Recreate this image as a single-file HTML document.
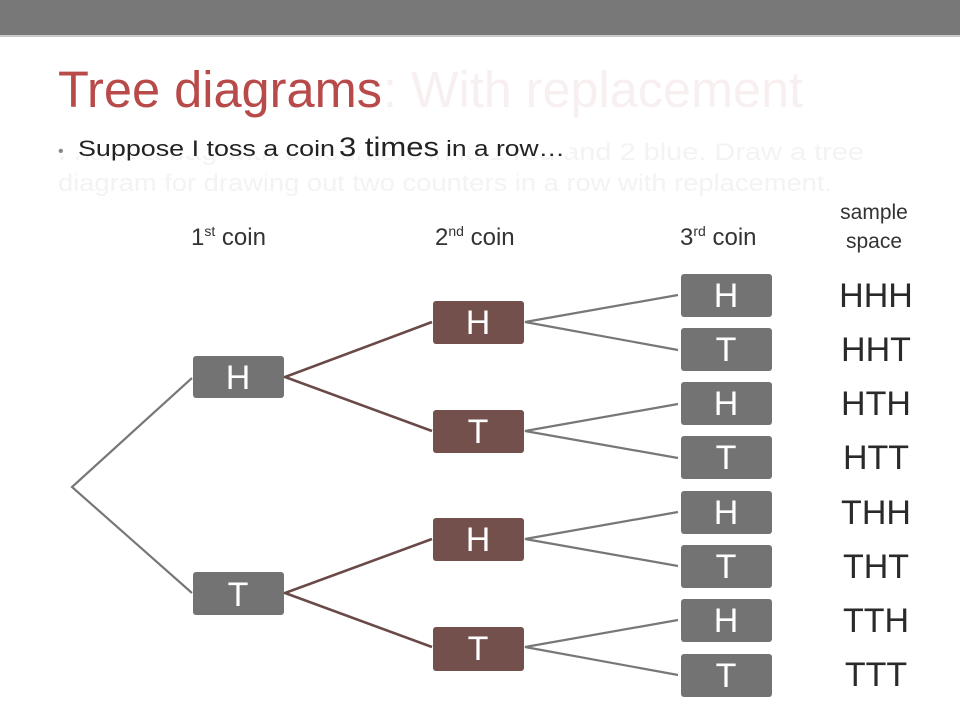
<!DOCTYPE html>
<html><head><meta charset="utf-8"><style>
html,body{margin:0;padding:0;background:#fff;}
svg{display:block;font-family:"Liberation Sans",Arial,sans-serif;}
</style></head><body>
<svg width="960" height="720" viewBox="0 0 960 720" xmlns="http://www.w3.org/2000/svg">
<rect x="0" y="0" width="960" height="720" fill="#fff"/>
<rect x="0" y="0" width="960" height="35" fill="#787878"/>
<rect x="0" y="35" width="960" height="2" fill="#c8c8c8"/>
<text x="58" y="107" font-size="51" fill="#b84a4a" textLength="324" lengthAdjust="spacingAndGlyphs">Tree diagrams</text>
<text x="383" y="107" font-size="51" fill="#f8f0f0" textLength="420" lengthAdjust="spacingAndGlyphs">: With replacement</text>
<text x="58" y="160" font-size="24" fill="#f3f3f3" textLength="806" lengthAdjust="spacingAndGlyphs">I have a bag with 3 counters in it: 1 red and 2 blue. Draw a tree</text>
<text x="58" y="191" font-size="24" fill="#f3f3f3" textLength="774" lengthAdjust="spacingAndGlyphs">diagram for drawing out two counters in a row with replacement.</text>
<rect x="0" y="128" width="570" height="28" fill="#fff" opacity="0.85"/>
<text x="58" y="156" font-size="16" fill="#888">•</text>
<text x="78" y="156" font-size="22" fill="#222" textLength="257" lengthAdjust="spacingAndGlyphs">Suppose I toss a coin</text>
<text x="339" y="156" font-size="27" fill="#222" textLength="100" lengthAdjust="spacingAndGlyphs">3 times</text>
<text x="446" y="156" font-size="22" fill="#222" textLength="119" lengthAdjust="spacingAndGlyphs">in a row…</text>
<g font-size="24" fill="#333">
<text x="191" y="245">1<tspan font-size="14" dy="-9">st</tspan><tspan dy="9"> coin</tspan></text>
<text x="435" y="245">2<tspan font-size="14" dy="-9">nd</tspan><tspan dy="9"> coin</tspan></text>
<text x="680" y="245">3<tspan font-size="14" dy="-9">rd</tspan><tspan dy="9"> coin</tspan></text>
<text x="874" y="219" text-anchor="middle" font-size="21">sample</text>
<text x="874" y="248" text-anchor="middle" font-size="21">space</text>
</g>
<g stroke="#777" stroke-width="2.2" fill="none">
<polyline points="192,378 72,487 192,593"/>
<polyline points="678,295 525,322 678,350"/>
<polyline points="678,404 525,431 678,458"/>
<polyline points="678,512 525,539 678,566"/>
<polyline points="678,620 525,647 678,675"/>
</g>
<g stroke="#6a4a48" stroke-width="2.6" fill="none">
<polyline points="432,322 285,377 432,431"/>
<polyline points="432,539 285,593 432,647"/>
</g>
<g fill="#737373">
<rect x="193" y="356" width="91" height="42" rx="3"/>
<rect x="193" y="572" width="91" height="43" rx="3"/>
</g>
<g fill="#74504c">
<rect x="433" y="301" width="91" height="43" rx="3"/>
<rect x="433" y="410" width="91" height="43" rx="3"/>
<rect x="433" y="518" width="91" height="43" rx="3"/>
<rect x="433" y="627" width="91" height="44" rx="3"/>
</g>
<g fill="#737373">
<rect x="681" y="274" width="91" height="43" rx="3"/>
<rect x="681" y="328" width="91" height="43" rx="3"/>
<rect x="681" y="382" width="91" height="43" rx="3"/>
<rect x="681" y="436" width="91" height="43" rx="3"/>
<rect x="681" y="491" width="91" height="43" rx="3"/>
<rect x="681" y="545" width="91" height="43" rx="3"/>
<rect x="681" y="599" width="91" height="43" rx="3"/>
<rect x="681" y="654" width="91" height="43" rx="3"/>
</g>
<g fill="#fff" font-size="34" text-anchor="middle">
<text x="238" y="389">H</text>
<text x="238" y="606">T</text>
<text x="478" y="334">H</text>
<text x="478" y="443">T</text>
<text x="478" y="551">H</text>
<text x="478" y="660">T</text>
<text x="726" y="307">H</text>
<text x="726" y="361">T</text>
<text x="726" y="415">H</text>
<text x="726" y="469">T</text>
<text x="726" y="524">H</text>
<text x="726" y="578">T</text>
<text x="726" y="632">H</text>
<text x="726" y="687">T</text>
</g>
<g fill="#2a2a2a" font-size="34" text-anchor="middle">
<text x="876" y="307">HHH</text>
<text x="876" y="361">HHT</text>
<text x="876" y="415">HTH</text>
<text x="876" y="469">HTT</text>
<text x="876" y="524">THH</text>
<text x="876" y="578">THT</text>
<text x="876" y="632">TTH</text>
<text x="876" y="686">TTT</text>
</g>
</svg>
</body></html>
